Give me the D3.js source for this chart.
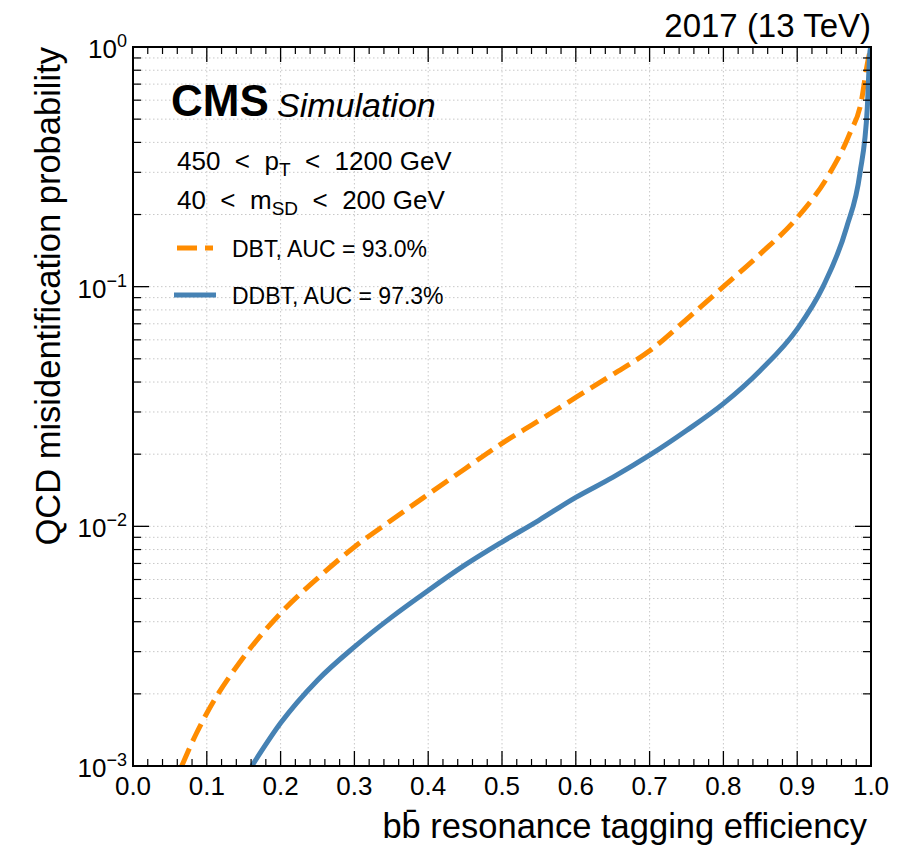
<!DOCTYPE html>
<html>
<head>
<meta charset="utf-8" />
<script src="https://d3js.org/d3.v7.min.js"></script>
<style>
    body { margin: 0; background: #fff; }
    svg text { font-family: "Liberation Sans", Arial, Helvetica, sans-serif; fill: #000; white-space: pre; }
</style>
</head>
<body>
<svg id="chart" width="897" height="848"></svg>
<script>
    // ---- donnees ----
    var xTicks = [0.0, 0.1, 0.2, 0.3, 0.4, 0.5, 0.6, 0.7, 0.8, 0.9, 1.0];
    var yDecades = [-3, -2, -1, 0];

    var dbtEff = [0.066, 0.086, 0.1, 0.15, 0.2, 0.25, 0.3, 0.35, 0.4, 0.45, 0.5, 0.55, 0.6, 0.65, 0.7, 0.75, 0.8, 0.85, 0.9, 0.944, 0.971, 0.987, 0.995, 1.0];
    var dbtMis = [0.001, 0.00137, 0.00166, 0.00285, 0.00434, 0.00607, 0.0082, 0.0106, 0.0136, 0.0174, 0.0222, 0.0276, 0.0345, 0.043, 0.054, 0.073, 0.100, 0.137, 0.194, 0.297, 0.434, 0.596, 0.85, 1.0];

    var ddbtEff = [0.161, 0.2, 0.25, 0.3, 0.35, 0.4, 0.45, 0.5, 0.55, 0.6, 0.65, 0.7, 0.75, 0.8, 0.85, 0.9, 0.935, 0.967, 0.985, 0.995, 0.9986, 1.0];
    var ddbtMis = [0.001, 0.00151, 0.00228, 0.00314, 0.00417, 0.0054, 0.0069, 0.0086, 0.0106, 0.0132, 0.0160, 0.0198, 0.0251, 0.0325, 0.0447, 0.0665, 0.100, 0.177, 0.297, 0.558, 0.96, 1.0];

    var series = [
        {name: "DBT, AUC = 93.0%", x: dbtEff, y: dbtMis, color: "#ff8c00", dash: "19,8"},
        {name: "DDBT, AUC = 97.3%", x: ddbtEff, y: ddbtMis, color: "#4682b4", dash: null}
    ];

    // ---- mise en page ----
    var pL = 133, pR = 871, pT = 47, pB = 766;
    var svg = d3.select("#chart");

    var x = d3.scaleLinear().domain([0, 1]).range([pL, pR]);
    var y = d3.scaleLog().domain([1e-3, 1]).range([pB, pT]);

    // valeurs mineures
    var yMinor = [];
    yDecades.slice(0, 3).forEach(function(e) {
        for (var k = 2; k <= 9; k++) yMinor.push(k * Math.pow(10, e));
    });
    var xMinor = d3.range(0, 50).map(function(i) { return i * 0.02; }).filter(function(v, i) { return i % 5 !== 0; });

    // grille
    var grid = svg.append("g").attr("stroke", "#c8c8c8").attr("stroke-width", 1).attr("stroke-dasharray", "1.5,2.5");
    grid.selectAll("line.gx").data(xTicks.slice(1, -1)).enter().append("line")
        .attr("x1", d => x(d)).attr("x2", d => x(d)).attr("y1", pT).attr("y2", pB);
    grid.selectAll("line.gy").data(yMinor.concat([1e-2, 1e-1])).enter().append("line")
        .attr("x1", pL).attr("x2", pR).attr("y1", d => y(d)).attr("y2", d => y(d));

    // courbes
    svg.append("clipPath").attr("id", "clip").append("rect")
        .attr("x", pL).attr("y", pT).attr("width", pR - pL).attr("height", pB - pT);

    var line = d3.line().x(d => x(d[0])).y(d => y(d[1])).curve(d3.curveMonotoneX);
    series.forEach(function(s) {
        svg.append("path")
            .datum(d3.zip(s.x, s.y))
            .attr("clip-path", "url(#clip)")
            .attr("d", line)
            .attr("fill", "none")
            .attr("stroke", s.color)
            .attr("stroke-width", 5)
            .attr("stroke-dasharray", s.dash);
    });

    // ticks (vers l'interieur, 4 cotes)
    var ticks = svg.append("g").attr("stroke", "#000");
    function tick(x1, x2, y1, y2, w) {
        ticks.append("line").attr("x1", x1).attr("x2", x2).attr("y1", y1).attr("y2", y2).attr("stroke-width", w);
    }
    xTicks.forEach(function(v) {
        tick(x(v), x(v), pB, pB - 15, 1.3);
        tick(x(v), x(v), pT, pT + 15, 1.3);
    });
    xMinor.forEach(function(v) {
        tick(x(v), x(v), pB, pB - 7, 1.2);
        tick(x(v), x(v), pT, pT + 7, 1.2);
    });
    yDecades.forEach(function(e) {
        var v = Math.pow(10, e);
        tick(pL, pL + 16, y(v), y(v), 1.3);
        tick(pR, pR - 16, y(v), y(v), 1.3);
    });
    yMinor.forEach(function(v) {
        tick(pL, pL + 8, y(v), y(v), 1.2);
        tick(pR, pR - 8, y(v), y(v), 1.2);
    });

    // cadre
    svg.append("rect").attr("x", pL).attr("y", pT).attr("width", pR - pL).attr("height", pB - pT)
        .attr("fill", "none").attr("stroke", "#000").attr("stroke-width", 2);

    // labels axe x
    svg.append("g").selectAll("text").data(xTicks).enter().append("text")
        .attr("x", d => x(d)).attr("y", 795)
        .attr("text-anchor", "middle").attr("font-size", 26)
        .text(d => d.toFixed(1));

    // labels axe y : 10^n
    yDecades.forEach(function(e) {
        var t = svg.append("text").attr("x", 127).attr("y", y(Math.pow(10, e)) + 11)
            .attr("text-anchor", "end").attr("font-size", 26);
        t.append("tspan").text("10");
        t.append("tspan").attr("dy", -11).attr("font-size", 18).text(e === 0 ? "0" : "\u2212" + (-e));
    });

    // titres axes
    svg.append("text").attr("x", 867).attr("y", 838).attr("text-anchor", "end").attr("font-size", 34.5)
        .text("b\u0062\u0304 resonance tagging efficiency");
    svg.append("text").attr("transform", "translate(60," + pT + ") rotate(-90)")
        .attr("text-anchor", "end").attr("font-size", 34.5)
        .text("QCD misidentification probability");

    // en-tete
    svg.append("text").attr("x", pR).attr("y", 37).attr("text-anchor", "end").attr("font-size", 33)
        .text("2017 (13 TeV)");
    svg.append("text").attr("x", 171).attr("y", 116).attr("font-size", 44).attr("font-weight", "bold")
        .text("CMS");
    svg.append("text").attr("x", 277).attr("y", 117).attr("font-size", 34).attr("font-style", "italic")
        .text("Simulation");

    // coupures
    var c1 = svg.append("text").attr("x", 177).attr("y", 170).attr("font-size", 26);
    c1.append("tspan").text("450  <  p");
    c1.append("tspan").attr("dy", 6).attr("font-size", 19).text("T");
    c1.append("tspan").attr("dy", -6).text("  <  1200 GeV");
    var c2 = svg.append("text").attr("x", 177).attr("y", 209).attr("font-size", 26);
    c2.append("tspan").text("40  <  m");
    c2.append("tspan").attr("dy", 6).attr("font-size", 19).text("SD");
    c2.append("tspan").attr("dy", -6).text("  <  200 GeV");

    // legende
    var legY = [248, 295];
    series.forEach(function(s, i) {
        svg.append("line").attr("x1", s.dash ? 177 : 174).attr("x2", s.dash ? 213 : 216)
            .attr("y1", legY[i]).attr("y2", legY[i])
            .attr("stroke", s.color).attr("stroke-width", 5)
            .attr("stroke-dasharray", s.dash ? "20,8" : null);
        svg.append("text").attr("x", 232).attr("y", legY[i] + 9).attr("font-size", 23).text(s.name);
    });
</script>
</body>
</html>
